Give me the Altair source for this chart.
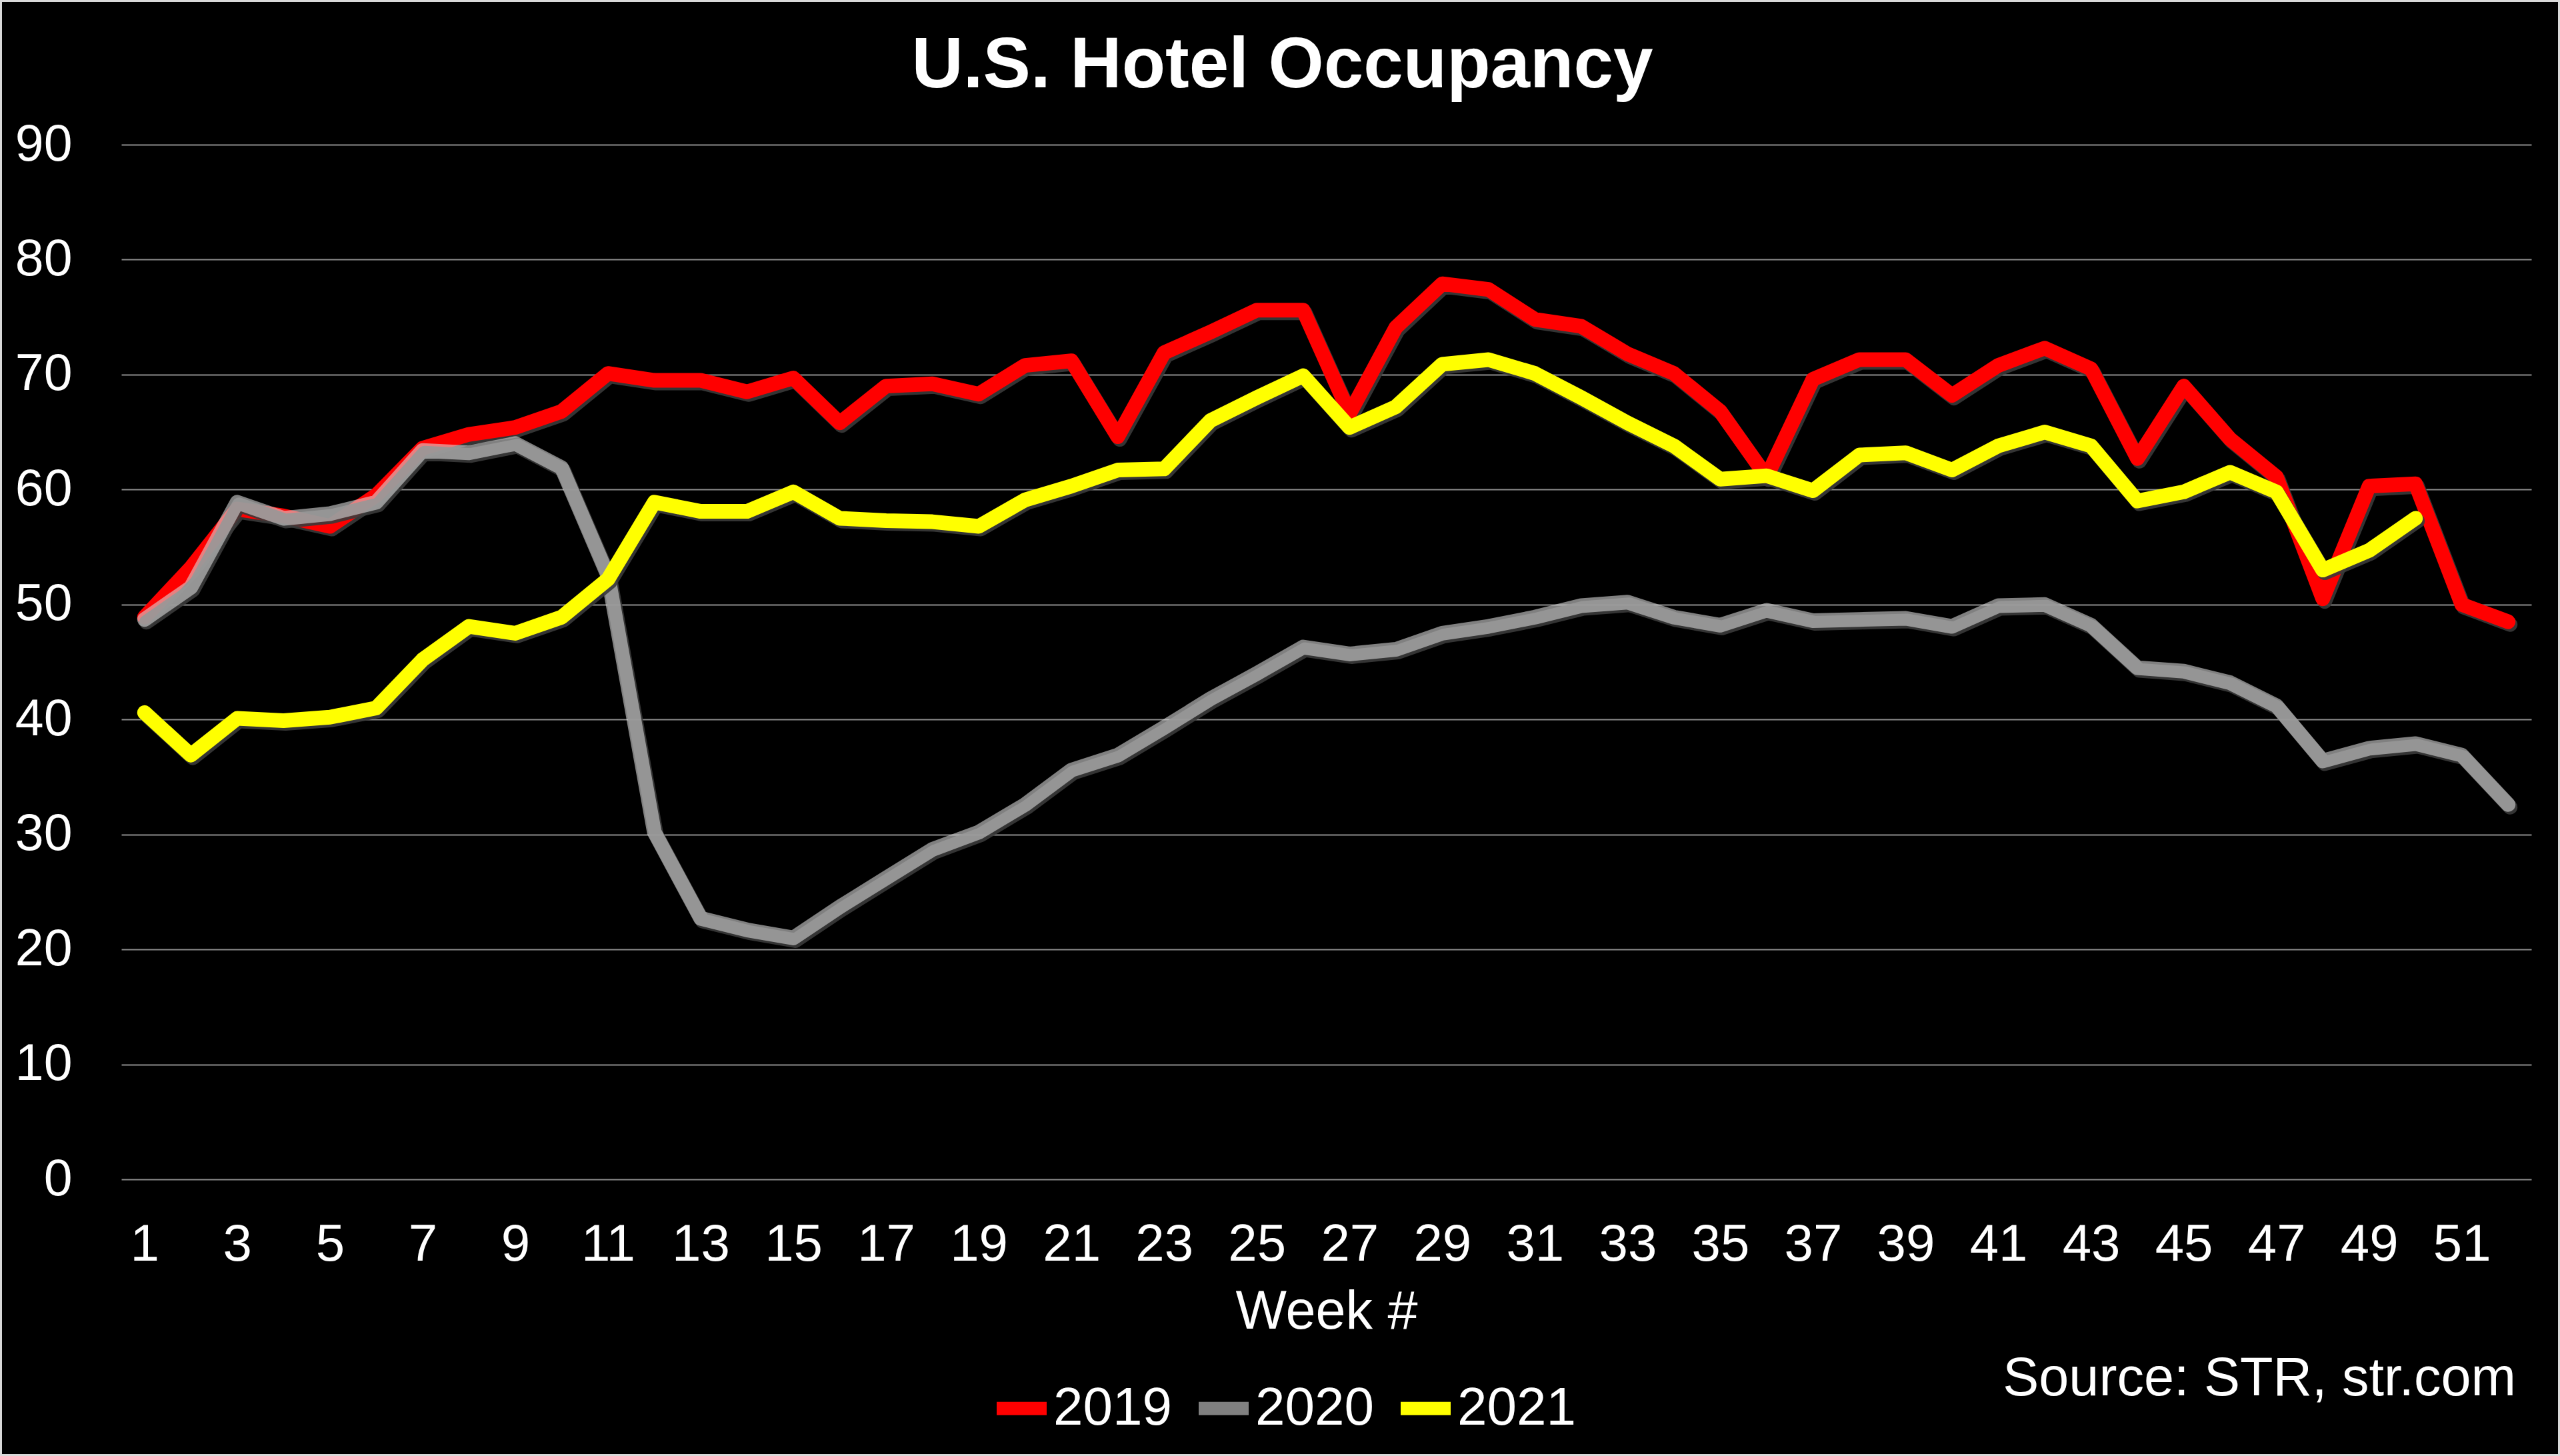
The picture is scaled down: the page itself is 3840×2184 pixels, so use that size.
import altair as alt
import pandas as pd

weeks = list(range(1, 53))
occ_2019 = [48.9, 53.2, 58.3, 57.7, 56.8, 59.5, 63.6, 64.8, 65.4, 66.8,
            70.1, 69.5, 69.5, 68.5, 69.7, 65.8, 69.0, 69.2, 68.3, 70.8,
            71.2, 64.6, 71.9, 73.7, 75.6, 75.6, 66.6, 74.1, 77.9, 77.4,
            74.8, 74.2, 71.8, 70.1, 66.8, 61.1, 69.6, 71.3, 71.3, 68.2,
            70.8, 72.3, 70.5, 62.7, 69.0, 64.4, 61.1, 50.5, 60.3, 60.5,
            50.0, 48.5]
occ_2020 = [48.7, 51.5, 58.9, 57.5, 57.9, 58.9, 63.4, 63.2, 64.0, 61.9,
            52.5, 30.2, 22.7, 21.7, 21.0, 23.7, 26.2, 28.7, 30.2, 32.6,
            35.6, 36.9, 39.3, 41.8, 44.0, 46.3, 45.7, 46.1, 47.5, 48.1,
            48.9, 49.9, 50.2, 48.9, 48.2, 49.5, 48.6, 48.7, 48.8, 48.1,
            49.9, 50.0, 48.2, 44.5, 44.2, 43.2, 41.2, 36.4, 37.5, 37.9,
            36.9, 32.6]
occ_2021 = [40.6, 36.9, 40.1, 39.9, 40.2, 41.0, 45.2, 48.1, 47.5, 48.9,
            52.2, 58.9, 58.1, 58.1, 59.8, 57.5, 57.3, 57.2, 56.8, 59.1,
            60.3, 61.7, 61.8, 66.0, 68.0, 69.9, 65.4, 67.2, 70.9, 71.3,
            70.1, 68.0, 65.8, 63.8, 60.9, 61.2, 59.9, 63.0, 63.2, 61.7,
            63.8, 65.0, 63.8, 59.0, 59.8, 61.5, 59.8, 53.0, 54.7, 57.5]
years = ["2019", "2020", "2021"]
legend_colors = ["#FF0000", "#808080", "#FFFF00"]
x_tick_values = list(range(1, 52, 2))
y_tick_values = list(range(0, 91, 10))
title_text = "U.S. Hotel Occupancy"
x_title = "Week #"
source_text = ["Source: STR, str.com"]

rows = []
for yr, vals in zip(years, [occ_2019, occ_2020, occ_2021]):
    for w, v in zip(weeks, vals):
        rows.append({"week": w, "occupancy": v, "year": yr})
df = pd.DataFrame(rows)

FONT = "Liberation Sans"
LW = 22

x_enc = alt.X(
    "week:Q",
    scale=alt.Scale(domain=[0.5, 52.5], nice=False, zero=False),
    axis=alt.Axis(
        values=x_tick_values, format="d", title=x_title, grid=False,
        domain=False, ticks=False, tickSize=0, labelFontSize=78,
        labelColor="white", labelFont=FONT, labelPadding=59,
        titleFontSize=81, titleFont=FONT, titleFontWeight="normal",
        titleColor="white", titlePadding=22, labelFlush=False,
    ),
)
y_enc = alt.Y(
    "occupancy:Q",
    scale=alt.Scale(domain=[0, 90], nice=False),
    axis=alt.Axis(
        values=y_tick_values, title=None, grid=True, gridColor="#8C8C8C",
        gridWidth=2, domain=False, ticks=False, tickSize=0,
        labelFontSize=77, labelColor="white", labelFont=FONT,
        labelPadding=74, labelFlush=False,
    ),
)
color_enc = alt.Color(
    "year:N",
    scale=alt.Scale(domain=years, range=legend_colors),
    legend=alt.Legend(
        title=None, orient="none", direction="horizontal",
        legendX=1303, legendY=1848, symbolType="stroke", symbolSize=5625,
        symbolStrokeWidth=20, labelFontSize=80, labelFont=FONT,
        labelColor="white", labelOffset=0, columnPadding=0, padding=0,
        symbolOpacity=1, labelLimit=500,
    ),
)

base = alt.Chart(df)
layers = []
for yr in years:
    sub = base.transform_filter(alt.datum.year == yr)
    shadow = sub.mark_line(
        color="#3A3A3A", strokeWidth=LW, xOffset=3, yOffset=4,
        strokeCap="round", strokeJoin="round", opacity=0.9,
    ).encode(x=x_enc, y=y_enc)
    if yr == "2020":
        line = sub.mark_line(
            color="#D9D9D9", opacity=0.59, strokeWidth=LW,
            strokeCap="round", strokeJoin="round",
        ).encode(x=x_enc, y=y_enc)
    else:
        line = sub.mark_line(
            strokeWidth=LW, strokeCap="round", strokeJoin="round",
        ).encode(x=x_enc, y=y_enc, color=color_enc)
    layers += [shadow, line]

source = alt.Chart(pd.DataFrame({"t": source_text})).mark_text(
    align="right", baseline="alphabetic", fontSize=81, font=FONT,
    color="white",
).encode(x=alt.value(3592), y=alt.value(1876), text="t:N")

border = alt.Chart(pd.DataFrame({"a": [0]})).mark_rect(
    filled=False, stroke="#D9D9D9", strokeWidth=3,
).encode(x=alt.value(-180.5), x2=alt.value(3656.5),
         y=alt.value(-215.5), y2=alt.value(1965.5))

chart = alt.layer(*layers, source, border).properties(
    width=3615,
    height=1552,
    autosize=alt.AutoSizeParams(type="none"),
    padding={"left": 182, "top": 217, "right": 43, "bottom": 415},
    background="black",
    title=alt.TitleParams(
        title_text, fontSize=107, font=FONT, fontWeight="bold",
        color="white", anchor="middle", dx=-66, offset=-153,
    ),
).configure_view(stroke=None)

chart.save("out.html", embed_options={"renderer": "svg", "actions": False})
